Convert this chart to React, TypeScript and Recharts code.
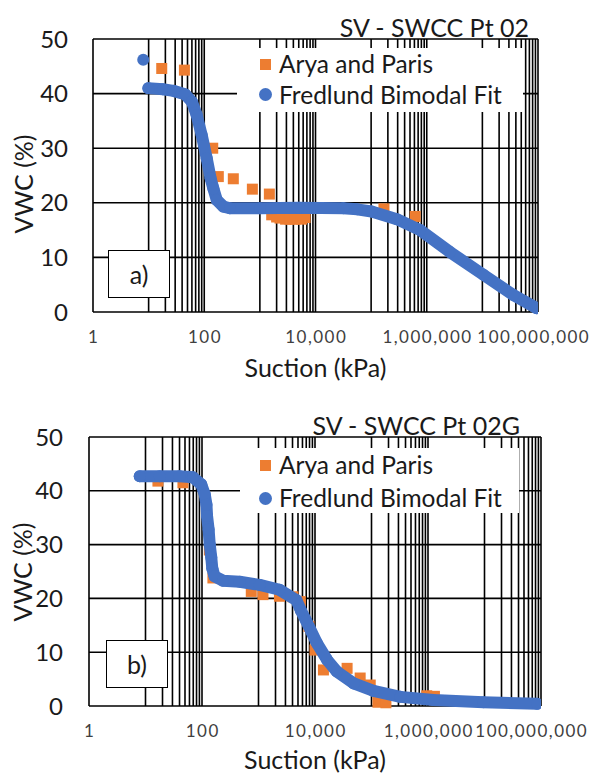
import React from "react";
import { ScatterChart, Scatter, XAxis, YAxis, CartesianGrid } from "recharts";

const FONT = "Lato, 'Open Sans', sans-serif";
const BLUE = "#4472C4";
const ORANGE = "#ED7D31";

// axis ticks
const majorTicks = [1, 100, 10000, 1000000, 100000000];
const minorSteps = [10, 20, 30, 40, 50, 60, 70, 80, 90];
const yTicks = [0, 10, 20, 30, 40, 50];
const gridTicks = [
  ...majorTicks,
  ...majorTicks.slice(0, 4).flatMap((m) => minorSteps.map((s) => s * m)),
].sort((a, b) => a - b);

// panel a) SV - SWCC Pt 02
const aryaA_suction = [17.2, 44, 142, 179, 333, 733, 1480, 1630, 2000, 2300, 2900, 3470, 4300, 5600, 6500, 170000, 620000];
const aryaA_vwc = [44.6, 44.3, 30.0, 24.8, 24.4, 22.5, 21.6, 17.8, 17.4, 17.2, 17.0, 17.0, 17.0, 17.0, 17.3, 18.9, 17.5];
const fitA_first_suction = [8.0];
const fitA_first_vwc = [46.2];
const fitA_suction = [9.9, 18, 28, 45, 60, 73, 90, 111, 130, 146, 168, 221, 290, 1000, 5000, 31600, 56000, 102000, 290000, 760000, 2600000, 10500000, 36000000, 95000000];
const fitA_vwc = [41.0, 40.8, 40.5, 39.9, 38.5, 36.1, 32.4, 28.1, 24.5, 22.6, 20.5, 19.3, 19.0, 19.0, 19.1, 19.0, 18.8, 18.4, 17.0, 15.0, 11.0, 6.8, 3.1, 0.7];

// panel b) SV - SWCC Pt 02G
const aryaB_suction = [16.6, 46, 135, 156, 745, 1200, 2350, 4070, 5500, 7800, 10000, 14100, 37000, 63000, 95000, 130000, 180000, 950000, 1300000];
const aryaB_vwc = [41.8, 41.5, 29.0, 23.8, 21.3, 20.7, 20.4, 20.3, 19.4, 14.8, 10.4, 6.7, 7.0, 5.2, 3.9, 0.7, 0.6, 1.9, 1.8];
const fitB_suction = [7.9, 17.8, 40, 69, 97, 112, 120, 123, 131, 137, 146, 152, 167, 235, 463, 1050, 2360, 4680, 5600, 7000, 10800, 16300, 24400, 48500, 109000, 324000, 1260000, 9600000, 85000000];
const fitB_vwc = [42.7, 42.7, 42.7, 42.5, 41.2, 39.3, 37.4, 35.3, 32.8, 30.0, 27.6, 25.6, 24.1, 23.3, 23.1, 22.5, 21.6, 19.7, 17.8, 15.8, 11.7, 8.6, 6.4, 4.2, 2.8, 1.7, 1.1, 0.7, 0.4];

const zip = (xs: number[], ys: number[]) => xs.map((x, i) => ({ x, y: ys[i] }));

// the last label gets pushed left so it stays inside the picture, like Excel does
const XTick = (props: any) => {
  const { x, y, payload, lastShift = 0 } = props;
  const v = payload.value;
  if (!majorTicks.includes(v)) return <g />;
  const shift = v === 100000000 ? lastShift : 0;
  return (
    <text
      x={x + shift + 0.75}
      y={y + 31}
      textAnchor="middle"
      fontSize={17}
      letterSpacing={1.5}
      fill="#404040"
      fontFamily={FONT}
    >
      {v.toLocaleString("en-US")}
    </text>
  );
};

const square = (p: any) => <rect x={p.cx - 5.5} y={p.cy - 5.5} width={11} height={11} fill={ORANGE} />;
const dot = (p: any) => <circle cx={p.cx} cy={p.cy} r={6} fill={BLUE} />;

interface PanelProps {
  top: number;
  height: number;
  plot: { left: number; right: number; top: number; bottom: number };
  yGap: number;
  lastShift: number;
  title: string;
  titleRight: number;
  titleY: number;
  yTitle: { x: number; y: number };
  xTitleY: number;
  legend: { left: number; top: number; width: number; height: number; row1: number; row2: number; markX: number; textX: number };
  tag: string;
  tagBox: { left: number; top: number };
  arya: { x: number; y: number }[];
  fit: { x: number; y: number }[];
  extra?: { x: number; y: number }[];
}

function Panel(p: PanelProps) {
  const lg = p.legend;
  return (
    <div style={{ position: "absolute", left: 0, top: p.top, width: 591, height: p.height, fontFamily: FONT, color: "#1a1a1a" }}>
      <ScatterChart
        width={591}
        height={p.height}
        margin={{ top: p.plot.top, right: 591 - p.plot.right, bottom: 0, left: p.plot.left - 60 }}
      >
        <CartesianGrid stroke="#000" strokeWidth={1.6} />
        <XAxis
          type="number"
          dataKey="x"
          scale="log"
          domain={[1, 100000000]}
          allowDataOverflow
          ticks={gridTicks}
          interval={0}
          height={p.height - p.plot.bottom}
          tickLine={false}
          axisLine={false}
          tickSize={0}
          tickMargin={0}
          tick={<XTick lastShift={p.lastShift} />}
        />
        <YAxis
          type="number"
          dataKey="y"
          domain={[0, 50]}
          ticks={yTicks}
          width={60}
          tickLine={false}
          axisLine={false}
          tickSize={0}
          tickMargin={p.yGap}
          tick={{ fontSize: 24, fill: "#1a1a1a", fontFamily: FONT }}
        />
        <Scatter name="Arya and Paris" data={p.arya} fill={ORANGE} shape={square} isAnimationActive={false} />
        {p.extra && <Scatter data={p.extra} fill={BLUE} shape={dot} legendType="none" isAnimationActive={false} />}
        <Scatter
          name="Fredlund Bimodal Fit"
          data={p.fit}
          fill={BLUE}
          shape={dot}
          line={{ stroke: BLUE, strokeWidth: 12, strokeLinecap: "round", strokeLinejoin: "round" }}
          lineType="joint"
          isAnimationActive={false}
        />
      </ScatterChart>

      <div style={{ position: "absolute", right: 591 - p.titleRight, top: p.titleY - 15, height: 30, lineHeight: "30px", fontSize: 25, whiteSpace: "nowrap" }}>
        {p.title}
      </div>

      <div
        style={{
          position: "absolute", left: p.yTitle.x, top: p.yTitle.y, fontSize: 25, whiteSpace: "nowrap",
          transform: "translate(-50%, -50%) rotate(-90deg)", lineHeight: "28px",
        }}
      >
        VWC (%)
      </div>

      <div style={{ position: "absolute", left: (p.plot.left + p.plot.right) / 2, top: p.xTitleY - 11, transform: "translateX(-50%)", fontSize: 25, whiteSpace: "nowrap", lineHeight: "22px" }}>
        Suction (kPa)
      </div>

      <div style={{ position: "absolute", left: lg.left, top: lg.top, width: lg.width, height: lg.height, background: "#fff" }}>
        <div style={{ position: "absolute", left: lg.markX - 5.5, top: lg.row1 - 5.5, width: 11, height: 11, background: ORANGE }} />
        <div style={{ position: "absolute", left: lg.textX, top: lg.row1 - 14, height: 28, lineHeight: "28px", fontSize: 24.5, whiteSpace: "nowrap" }}>
          Arya and Paris
        </div>
        <div style={{ position: "absolute", left: lg.markX - 6.5, top: lg.row2 - 6.5, width: 13, height: 13, borderRadius: 7, background: BLUE }} />
        <div style={{ position: "absolute", left: lg.textX, top: lg.row2 - 14, height: 28, lineHeight: "28px", fontSize: 24.5, whiteSpace: "nowrap" }}>
          Fredlund Bimodal Fit
        </div>
      </div>

      <div
        style={{
          position: "absolute", left: p.tagBox.left, top: p.tagBox.top, width: 62, height: 48, boxSizing: "border-box",
          border: "1.6px solid #000", background: "#fff", display: "flex", alignItems: "center", justifyContent: "center", fontSize: 25,
        }}
      >
        {p.tag}
      </div>
    </div>
  );
}

export default function App() {
  return (
    <div style={{ position: "absolute", left: 0, top: 0, width: 591, height: 773, background: "#fff", overflow: "hidden" }}>
      <Panel
        top={0}
        height={380}
        plot={{ left: 93, right: 538, top: 39, bottom: 312 }}
        yGap={25}
        lastShift={-5}
        title="SV - SWCC Pt 02"
        titleRight={529}
        titleY={27}
        yTitle={{ x: 23, y: 184 }}
        xTitleY={367}
        legend={{ left: 237, top: 48, width: 286, height: 64, row1: 16, row2: 46.5, markX: 28, textX: 42 }}
        tag="a)"
        tagBox={{ left: 108, top: 250 }}
        arya={zip(aryaA_suction, aryaA_vwc)}
        fit={zip(fitA_suction, fitA_vwc)}
        extra={zip(fitA_first_suction, fitA_first_vwc)}
      />
      <Panel
        top={390}
        height={383}
        plot={{ left: 89, right: 541, top: 47, bottom: 316 }}
        yGap={26}
        lastShift={-10}
        title="SV - SWCC Pt 02G"
        titleRight={520}
        titleY={35}
        yTitle={{ x: 22, y: 182 }}
        xTitleY={369}
        legend={{ left: 240, top: 58, width: 279, height: 65, row1: 17, row2: 50, markX: 25, textX: 39 }}
        tag="b)"
        tagBox={{ left: 106, top: 250 }}
        arya={zip(aryaB_suction, aryaB_vwc)}
        fit={zip(fitB_suction, fitB_vwc)}
      />
    </div>
  );
}
